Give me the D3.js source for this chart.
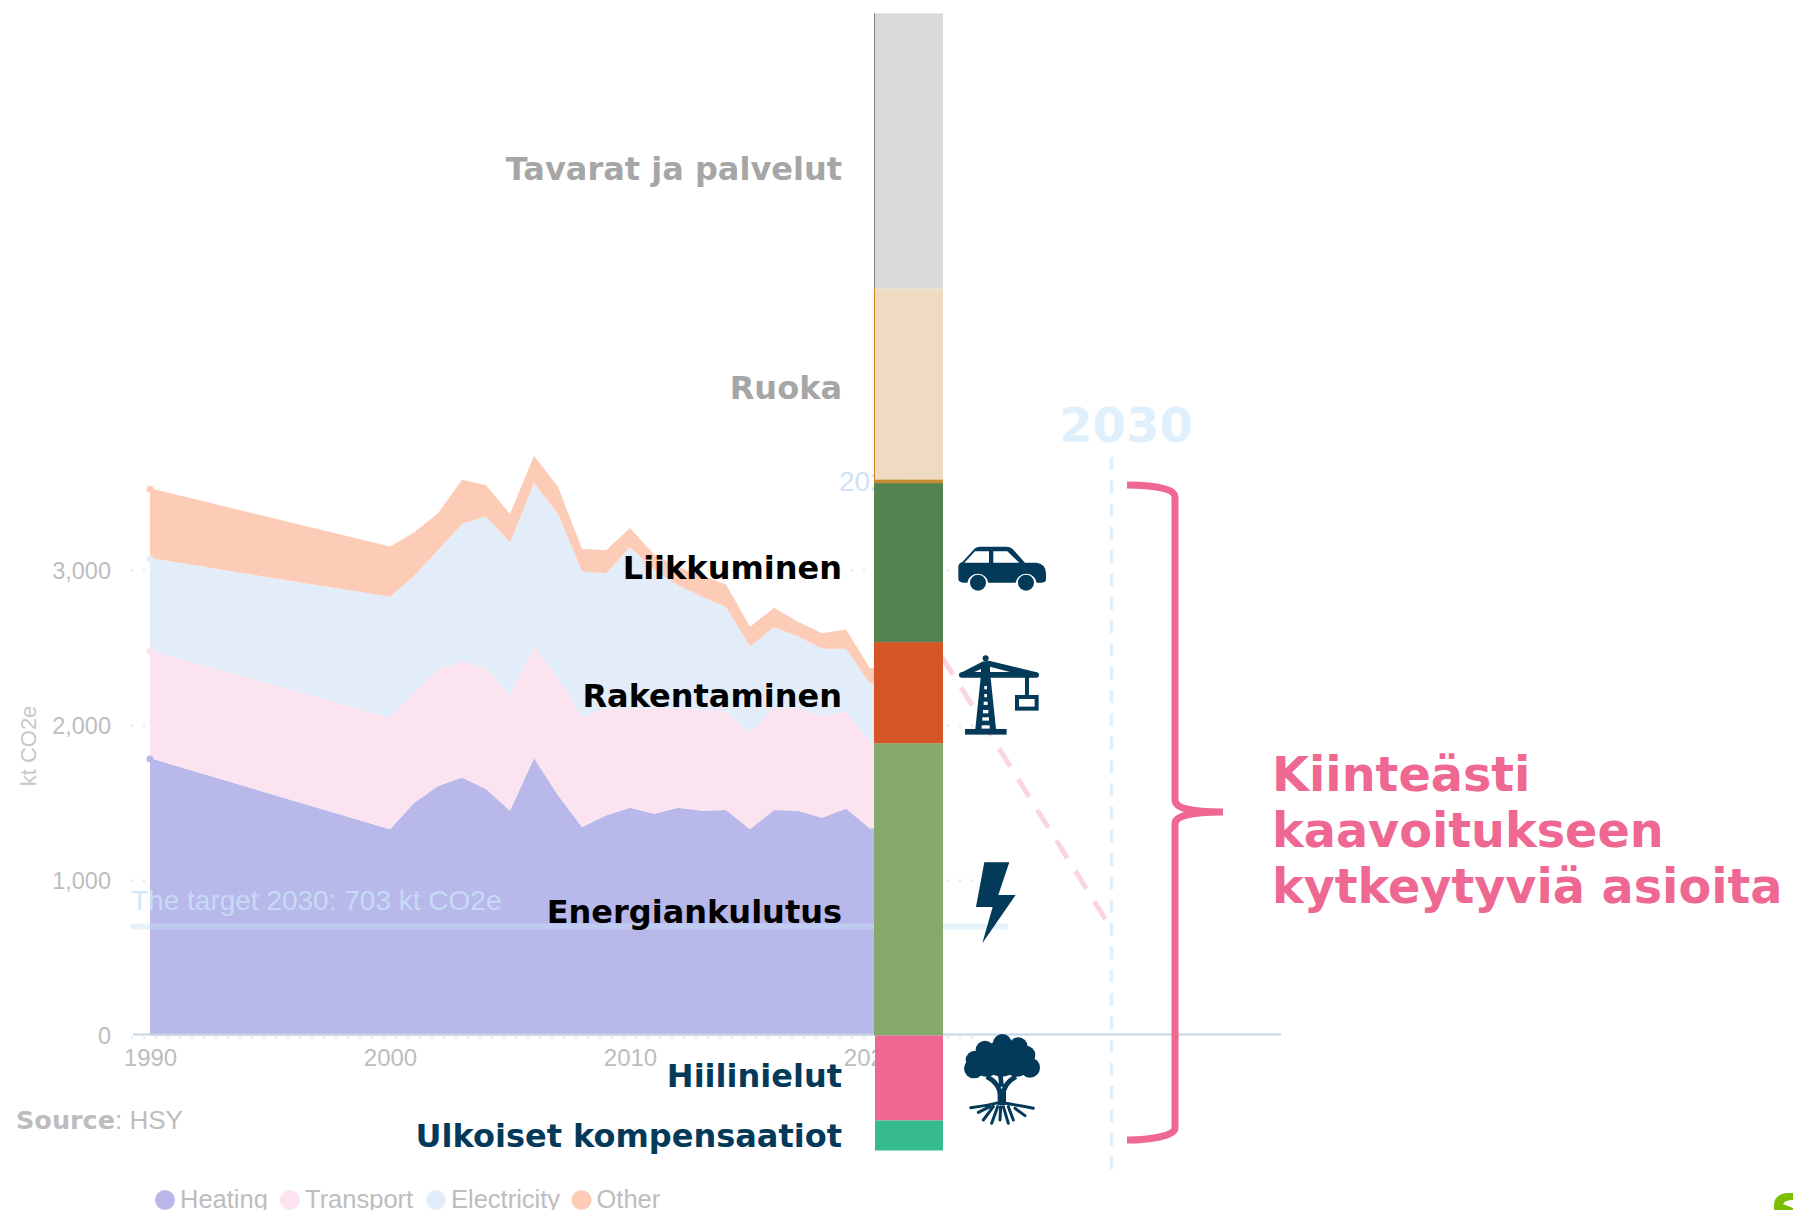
<!DOCTYPE html>
<html>
<head>
<meta charset="utf-8">
<script src="https://cdn.jsdelivr.net/npm/d3@7"></script>
<style>
  html, body { margin: 0; padding: 0; background: #fff; }
  svg { display: block; }
  text { font-family: "Liberation Sans", Arial, sans-serif; }
  .big { font-family: "DejaVu Sans", sans-serif; font-weight: 700; }
</style>
</head>
<body>
<div id="wrapper"></div>
<script>
// area chart data, kt CO2e (no yearly values before 2000)
const years = [1990, 2000, 2001, 2002, 2003, 2004, 2005, 2006, 2007, 2008, 2009, 2010, 2011, 2012, 2013, 2014, 2015, 2016, 2017, 2018, 2019, 2020, 2021];
const heating = [1790, 1330, 1500, 1610, 1665, 1590, 1450, 1790, 1550, 1345, 1420, 1470, 1430, 1470, 1450, 1455, 1330, 1455, 1450, 1405, 1465, 1335, 1350];
const transport = [695, 720, 715, 750, 750, 780, 740, 720, 755, 710, 690, 640, 680, 640, 650, 635, 620, 665, 660, 655, 625, 555, 560];
const electricity = [595, 780, 750, 770, 885, 980, 990, 1055, 1060, 940, 870, 1040, 895, 795, 730, 675, 560, 515, 465, 435, 405, 380, 380];
const other = [450, 325, 280, 240, 285, 200, 185, 175, 175, 145, 150, 125, 100, 117, 140, 145, 127, 125, 95, 100, 125, 100, 100];

const seriesNames = ['Heating', 'Transport', 'Electricity', 'Other'];
const seriesColors = ['#b8b8eb', '#fbe4ef', '#e3edf9', '#fdccb7'];

const yTicks = [0, 1000, 2000, 3000];
const xTicks = [1990, 2000, 2010, 2020];

const targetYears = [2023, 2030];
const targetPath = [2442, 703];
const targetValue = 703;

// stacked column, positive part from the axis upwards, then the part below the axis
const barLabels = ['Energiankulutus', 'Rakentaminen', 'Liikkuminen', '', 'Ruoka', 'Tavarat ja palvelut'];
const barValues = [1886, 652, 1026, 24, 1232, 1774];
const barColors = ['#87a96b', '#d55524', '#55834f', '#c98a35', '#efdbc4', '#d9d9d9'];
const negLabels = ['Hiilinielut', 'Ulkoiset kompensaatiot'];
const negValues = [548, 194];
const negColors = ['#ee6892', '#35bb8d'];

const textLines = ['Kiinteästi', 'kaavoitukseen', 'kytkeytyviä asioita'];

const width = 1793;
const height = 1210;

const svg = d3.select('#wrapper').append('svg').attr('width', width).attr('height', height);

const x = d3.scaleLinear().domain([1990, 2030]).range([150, 1110]);
const y = d3.scaleLinear().domain([0, 6600]).range([1035.5, 12.5]);
const barX = d3.scaleBand().domain(['stack']).range([874, 943]);

// grid, dotted and very faint
svg.append('g').selectAll('line').data(yTicks).join('line')
  .attr('x1', 131).attr('x2', 980)
  .attr('y1', (d) => y(d) + (d === 0 ? 2 : 0)).attr('y2', (d) => y(d) + (d === 0 ? 2 : 0))
  .attr('stroke', '#e4e4e4').attr('stroke-width', 2).attr('stroke-dasharray', '2 10');

// stacked areas
const table = years.map((year, i) => ({ year, Heating: heating[i], Transport: transport[i], Electricity: electricity[i], Other: other[i] }));
const layers = d3.stack().keys(seriesNames)(table);
const area = d3.area().x((d) => x(d.data.year)).y0((d) => y(d[0])).y1((d) => y(d[1]));

svg.append('g').selectAll('path').data(layers).join('path')
  .attr('d', area).attr('fill', (d, i) => seriesColors[i]);

svg.append('g').selectAll('circle').data(layers).join('circle')
  .attr('cx', x(years[0])).attr('cy', (d) => y(d[0][1]) + 1).attr('r', 3.5)
  .attr('fill', (d, i) => seriesColors[i]);

// axes
const xAxis = svg.append('g').attr('transform', 'translate(0,1044)')
  .call(d3.axisBottom(x).tickValues(xTicks).tickFormat(d3.format('d')).tickSize(0).tickPadding(0));
xAxis.select('.domain').remove();
xAxis.selectAll('text').attr('dy', 22).attr('fill', '#bdbdbd').style('font-size', '24px').style('font-family', '"Liberation Sans"');

const yAxis = svg.append('g').attr('transform', 'translate(111,0)')
  .call(d3.axisLeft(y).tickValues(yTicks).tickFormat(d3.format(',')).tickSize(0).tickPadding(0));
yAxis.select('.domain').remove();
yAxis.selectAll('text').attr('fill', '#bdbdbd').style('font-size', '23.5px').style('font-family', '"Liberation Sans"');

svg.append('text').attr('transform', 'translate(36,746) rotate(-90)').attr('text-anchor', 'middle')
  .attr('fill', '#c8c8c8').style('font-size', '22px').text('kt CO2e');

// target line
svg.append('line').attr('x1', 131).attr('x2', 1008).attr('y1', y(targetValue)).attr('y2', y(targetValue))
  .attr('stroke', '#c8e2f5').attr('stroke-opacity', 0.45).attr('stroke-width', 6);
svg.append('text').attr('x', 131).attr('y', 910).attr('fill', '#c8e2f5').attr('fill-opacity', 0.85)
  .style('font-size', '28px').text('The target 2030: 703 kt CO2e');

const targetLine = d3.line().x((d, i) => x(targetYears[i])).y((d) => y(d));
svg.append('path').attr('d', targetLine(targetPath)).attr('fill', 'none')
  .attr('stroke', '#fad5e3').attr('stroke-width', 5).attr('stroke-dasharray', '21 15');

// zero line
svg.append('line').attr('x1', 133).attr('x2', 1281).attr('y1', y(0) - 1).attr('y2', y(0) - 1)
  .attr('stroke', '#c5d5e5').attr('stroke-width', 2);

svg.append('text').attr('x', 839).attr('y', 491).attr('fill', '#cfe3f5').style('font-size', '28px').text('2020');

// 2030 marker
svg.append('text').attr('class', 'big').attr('x', x(2030) + 16).attr('y', 442).attr('text-anchor', 'middle')
  .attr('fill', '#dfeffb').style('font-size', '48px').text('2030');
svg.append('line').attr('x1', x(2030) + 1.5).attr('x2', x(2030) + 1.5).attr('y1', 457).attr('y2', 1169)
  .attr('stroke', '#dfeffb').attr('stroke-width', 3.5).attr('stroke-dasharray', '13 10.3');

// stacked column
let barTop = 0;
const barRows = barValues.map((v, i) => {
  const row = { from: barTop, to: barTop + v, color: barColors[i], label: barLabels[i] };
  barTop += v;
  return row;
});
let barBottom = 0;
const negRows = negValues.map((v, i) => {
  const row = { from: barBottom, to: barBottom - v, color: negColors[i], label: negLabels[i] };
  barBottom -= v;
  return row;
});

svg.append('g').selectAll('rect').data(barRows).join('rect')
  .attr('x', barX('stack')).attr('width', barX.bandwidth())
  .attr('y', (d) => y(d.to)).attr('height', (d) => y(d.from) - y(d.to))
  .attr('fill', (d) => d.color);
svg.append('g').selectAll('rect').data(negRows).join('rect')
  .attr('x', barX('stack') + 1).attr('width', barX.bandwidth() - 1)
  .attr('y', (d) => y(d.from)).attr('height', (d) => y(d.to) - y(d.from))
  .attr('fill', (d) => d.color);

// thin edge along the two top segments
svg.append('line').attr('x1', 874.5).attr('x2', 874.5).attr('y1', y(barRows[4].to)).attr('y2', y(barRows[5].to))
  .attr('stroke', '#808080').attr('stroke-width', 1);
svg.append('line').attr('x1', 874.5).attr('x2', 874.5).attr('y1', y(barRows[3].from)).attr('y2', y(barRows[4].to))
  .attr('stroke', '#d5801e').attr('stroke-width', 1);

// column labels
const labelBaselines = { 'Tavarat ja palvelut': 180, 'Ruoka': 399, 'Liikkuminen': 579, 'Rakentaminen': 707, 'Energiankulutus': 923, 'Hiilinielut': 1087, 'Ulkoiset kompensaatiot': 1147 };
const labelColors = { 'Tavarat ja palvelut': '#a6a6a6', 'Ruoka': '#a6a6a6', 'Hiilinielut': '#033a5a', 'Ulkoiset kompensaatiot': '#033a5a' };
svg.append('g').selectAll('text').data(Object.keys(labelBaselines)).join('text')
  .attr('class', 'big').attr('x', 842).attr('y', (d) => labelBaselines[d]).attr('text-anchor', 'end')
  .attr('fill', (d) => labelColors[d] || '#000').style('font-size', '32px').text((d) => d);

// icons, drawn in crop coordinates at a third of the size
const iconColor = '#033a5a';
const car = svg.append('g').attr('transform', 'translate(850,380) scale(0.3333)');
car.append('path').attr('fill', iconColor).attr('d', 'M325 560 Q325 550 338 545 L375 505 Q380 500 390 500 L470 500 Q480 500 488 507 L525 548 L560 548 Q588 552 588 580 L588 598 Q588 608 575 608 L560 608 A32 32 0 0 0 497 608 L415 608 A32 32 0 0 0 352 608 L340 608 Q325 608 325 595 Z');
car.append('path').attr('fill', '#fff').attr('d', 'M343 548 L375 514 L417 514 L417 548 Z M430 514 L472 514 L508 548 L430 548 Z');
car.selectAll('circle').data([384, 528]).join('circle').attr('cx', (d) => d).attr('cy', 608).attr('r', 24).attr('fill', iconColor);

const crane = svg.append('g').attr('transform', 'translate(850,380) scale(0.3333)');
crane.append('circle').attr('cx', 407).attr('cy', 835).attr('r', 9).attr('fill', iconColor);
crane.append('path').attr('fill', iconColor).attr('d', 'M333 878 L397 845 L417 842 L560 877 L560 885 L333 885 Z');
crane.append('path').attr('fill', '#fff').attr('d', 'M373 876 L393 867 L393 876 Z M420 860 L480 876 L420 876 Z');
crane.append('rect').attr('x', 327).attr('y', 877).attr('width', 240).attr('height', 16).attr('rx', 8).attr('fill', iconColor);
crane.append('path').attr('fill', iconColor).attr('d', 'M397 845 L417 845 L438 1047 L376 1047 Z');
crane.append('rect').attr('x', 345).attr('y', 1047).attr('width', 125).attr('height', 17).attr('fill', iconColor);
crane.append('rect').attr('x', 525).attr('y', 885).attr('width', 12).attr('height', 60).attr('fill', iconColor);
crane.append('rect').attr('x', 501).attr('y', 951).attr('width', 59).attr('height', 35).attr('fill', '#fff').attr('stroke', iconColor).attr('stroke-width', 12);
crane.selectAll('.rung').data([[403, 918, 8], [403, 942, 8], [401, 965, 12], [399, 990, 16], [397, 1012, 20], [395, 1036, 24]]).join('rect')
  .attr('class', 'rung').attr('x', (d) => d[0]).attr('y', (d) => d[1]).attr('width', (d) => d[2]).attr('height', 10).attr('fill', '#fff');

const bolt = svg.append('g').attr('transform', 'translate(850,780) scale(0.3333)');
bolt.append('path').attr('fill', iconColor).attr('d', 'M403 247 L478 247 L445 345 L497 345 L397 490 L428 381 L378 381 Z');

const tree = svg.append('g').attr('transform', 'translate(950,1025) scale(0.3333)');
tree.selectAll('circle').data([[157, 55, 28], [105, 75, 28], [205, 65, 28], [75, 105, 28], [72, 130, 30], [240, 128, 30], [228, 90, 28], [155, 100, 55], [110, 115, 40], [200, 115, 40]]).join('circle')
  .attr('cx', (d) => d[0]).attr('cy', (d) => d[1]).attr('r', (d) => d[2]).attr('fill', iconColor);
tree.append('path').attr('fill', 'none').attr('stroke', iconColor).attr('stroke-width', 14)
  .attr('d', 'M110 155 Q150 175 152 215 M198 155 Q160 175 158 215 M150 140 L155 185');
tree.append('rect').attr('x', 143).attr('y', 195).attr('width', 25).attr('height', 45).attr('fill', iconColor);
tree.append('path').attr('fill', 'none').attr('stroke', iconColor).attr('stroke-width', 9).attr('stroke-linecap', 'round')
  .attr('d', 'M62 248 Q120 240 150 232 Q200 240 250 250 M120 245 L85 262 M130 245 L100 285 M143 245 L125 295 M152 245 L150 285 M160 245 L175 295 M175 245 L190 285 M195 250 L225 272');

// bracket
svg.append('path').attr('fill', 'none').attr('stroke', '#ee6892').attr('stroke-width', 7)
  .attr('d', 'M1127 485 C1150 485 1175 488 1175 497 L1175 800 C1175 808 1190 812 1223 812 C1190 812 1175 816 1175 824 L1175 1128 C1175 1136 1150 1140 1127 1140');

svg.append('g').selectAll('text').data(textLines).join('text')
  .attr('class', 'big').attr('x', 1272).attr('y', (d, i) => 791 + i * 56)
  .attr('fill', '#ee6892').style('font-size', '47.7px').text((d) => d);

// source
const source = svg.append('text').attr('x', 16).attr('y', 1129).attr('fill', '#bdbdbd').style('font-size', '26px');
source.append('tspan').attr('class', 'big').style('font-size', '25.5px').text('Source');
source.append('tspan').text(': HSY');

// legend
const legendDotX = [165, 290, 436, 581.5];
const legend = svg.append('g').selectAll('g').data(seriesNames).join('g')
  .attr('transform', (d, i) => `translate(${legendDotX[i]},1200)`);
legend.append('circle').attr('r', 10).attr('fill', (d, i) => seriesColors[i]);
legend.append('text').attr('x', 15).attr('y', 7.5).attr('fill', '#bdbdbd').style('font-size', '25.5px').text((d) => d);

// bit of the logo cut off in the corner
svg.append('path').attr('fill', '#7ac000')
  .attr('d', 'M1793 1193 L1788 1193 Q1774 1194 1774 1205 L1774 1210 L1793 1210 L1793 1208 L1783 1204 Q1785 1200 1793 1200 Z');
</script>
</body>
</html>
